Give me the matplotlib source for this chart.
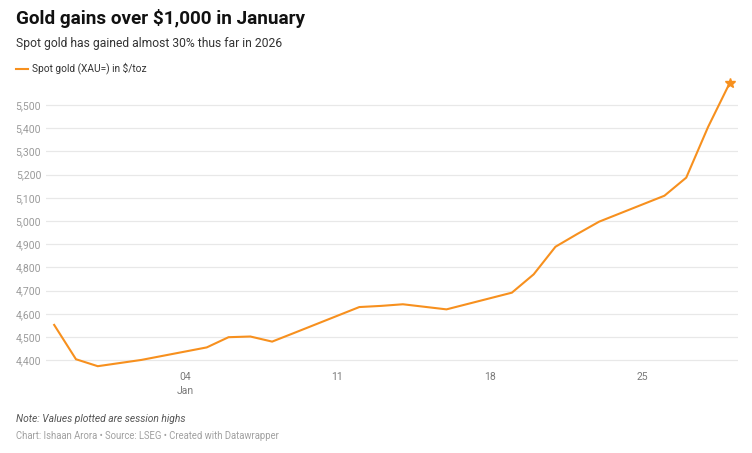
import matplotlib
matplotlib.use("Agg")
import matplotlib.pyplot as plt
import pandas as pd

plt.rcParams['font.family'] = ['Roboto', 'DejaVu Sans']

# session highs, spot gold (XAU=) in $/toz
dates = ["2025-12-29", "2025-12-30", "2025-12-31", "2026-01-02",
         "2026-01-05", "2026-01-06", "2026-01-07", "2026-01-08", "2026-01-09",
         "2026-01-12", "2026-01-13", "2026-01-14", "2026-01-15", "2026-01-16",
         "2026-01-19", "2026-01-20", "2026-01-21", "2026-01-22", "2026-01-23",
         "2026-01-26", "2026-01-27", "2026-01-28", "2026-01-29"]
prices = [4552, 4404, 4374, 4401,
          4455, 4499, 4502, 4480, 4517,
          4629, 4634, 4641, 4630, 4619,
          4691, 4770, 4889, 4944, 4997,
          5109, 5187, 5405, 5596]

y_ticks = [4400, 4500, 4600, 4700, 4800, 4900, 5000, 5100, 5200, 5300, 5400, 5500]
x_ticks = ["2026-01-04", "2026-01-11", "2026-01-18", "2026-01-25"]
x_labels = ["04\nJan", "11", "18", "25"]

orange = "#f7901e"

x = pd.to_datetime(dates)

# y range 4355..5620 -> pixel rows 370.6..77.2 of 453
fig = plt.figure(figsize=(7.52, 4.53), dpi=100)
ax = fig.add_axes([46/752, 1 - 370.6/453, 692/752, 293.4/453])

ax.plot(x, prices, color=orange, lw=1.5, solid_joinstyle="miter", zorder=3)
ax.plot(x[-1:], prices[-1:], marker="*", color=orange, ms=7, ls="none", zorder=4)

ax.set_ylim(4355, 5620)
ax.set_xlim(x[0] - pd.Timedelta(hours=9), x[-1] + pd.Timedelta(hours=9))

ax.set_yticks(y_ticks)
ax.set_yticklabels([f"{v:,}" for v in y_ticks])
ax.set_xticks(pd.to_datetime(x_ticks))
ax.set_xticklabels(x_labels)

ax.grid(axis="y", color="#e8e8e8", lw=0.9)
ax.set_axisbelow(True)
for s in ax.spines.values():
    s.set_visible(False)
ax.tick_params(axis="y", length=0, pad=3.5, labelsize=7.5, labelcolor="#9a9a9a")
ax.tick_params(axis="x", length=0, pad=1, labelsize=7.5, labelcolor="#7a7a7a")
for lbl in ax.get_xticklabels():
    lbl.set_linespacing(1.45)

# header
fig.text(16/752, 1 - 18/453, "Gold gains over $1,000 in January", fontsize=13.6,
         fontweight="bold", color="#111111", va="center", ha="left")
fig.text(16/752, 1 - 44/453, "Spot gold has gained almost 30% thus far in 2026",
         fontsize=8.7, color="#333333", va="center", ha="left")
fig.lines.append(plt.Line2D([16/752, 28/752], [1 - 68.5/453, 1 - 68.5/453],
                            transform=fig.transFigure, color=orange, lw=1.5))
fig.text(32/752, 1 - 68.5/453, "Spot gold (XAU=) in $/toz", fontsize=7.3,
         color="#333333", va="center", ha="left")

# footer
fig.text(16/752, 1 - 419/453, "Note: Values plotted are session highs", fontsize=7.4,
         style="italic", color="#555555", va="center", ha="left")
fig.text(16/752, 1 - 436/453, "Chart: Ishaan Arora \u2022 Source: LSEG \u2022 Created with Datawrapper",
         fontsize=6.85, color="#a0a0a0", va="center", ha="left")

fig.savefig("out.png", dpi=100)
